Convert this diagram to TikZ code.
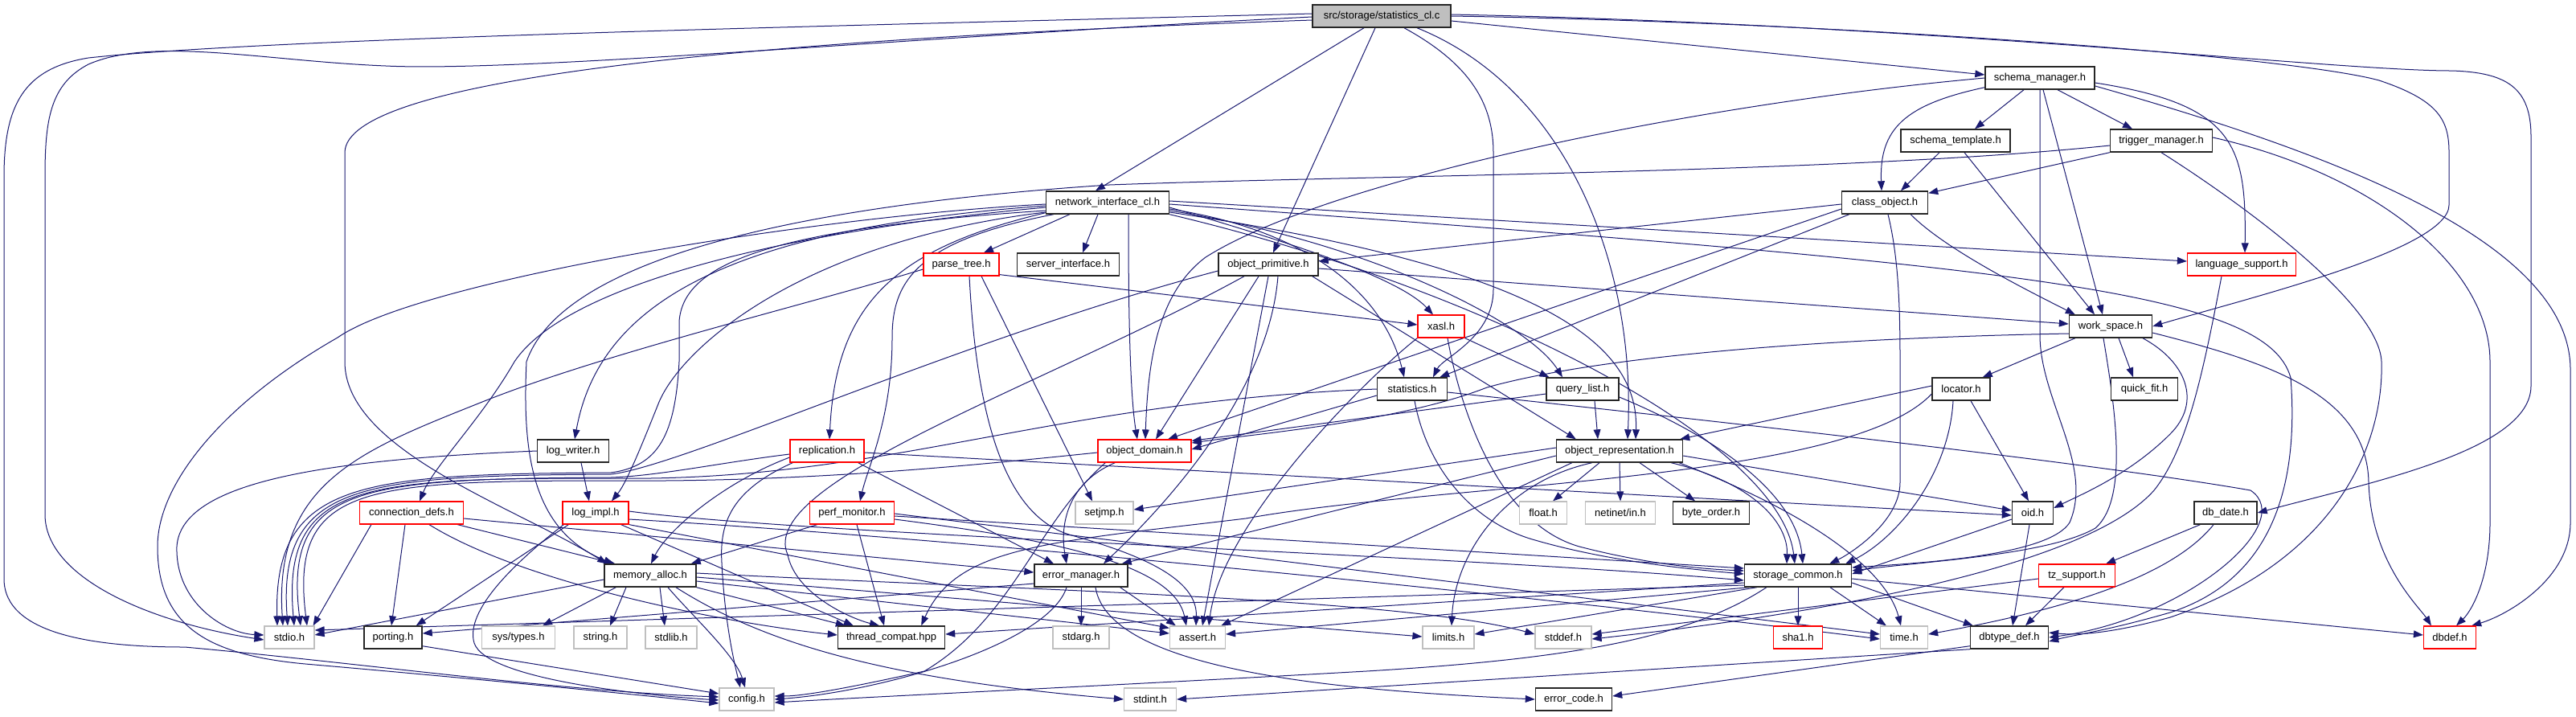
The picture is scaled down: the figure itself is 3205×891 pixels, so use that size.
\documentclass[tikz,border=0pt]{standalone}
\usepackage{fontspec}
\setmainfont{Liberation Sans}
\usetikzlibrary{arrows.meta,calc,backgrounds}
\definecolor{edgec}{HTML}{191970}
\definecolor{graybd}{HTML}{BFBFBF}
\definecolor{rootf}{HTML}{BFBFBF}
\tikzset{
  nbase/.style={rectangle, minimum height=14pt, inner sep=0pt, fill=white,
    font=\fontsize{6.5pt}{7.5pt}\selectfont},
  nb/.style={nbase, draw=black!85, line width=0.7pt},
  nr/.style={nbase, draw=red, line width=0.6pt},
  ng/.style={nbase, draw=graybd, line width=0.6pt},
  w/.style={minimum width=#1*0.5pt},
  e/.style={draw=edgec, line width=0.5pt, -{Triangle[length=6pt,width=4.4pt]}}
}
\begin{document}
\begin{tikzpicture}[x=0.5pt,y=-0.5pt]
\useasboundingbox (0,0) rectangle (3205,891);
% ---------- nodes ----------
\node[nb,w=172,fill=rootf] (R) at (1719,20) {src/storage/statistics\_cl.c};
\node[nb,w=136] (SM) at (2538,97) {schema\_manager.h};
\node[nb,w=136] (ST) at (2433,175) {schema\_template.h};
\node[nb,w=127] (TM) at (2689,175) {trigger\_manager.h};
\node[nb,w=153] (NI) at (1378,252) {network\_interface\_cl.h};
\node[nb,w=107] (CO) at (2345,252) {class\_object.h};
\node[nr,w=94] (PT) at (1196,329) {parse\_tree.h};
\node[nb,w=127] (SI) at (1329,329) {server\_interface.h};
\node[nb,w=124] (OP) at (1578,329) {object\_primitive.h};
\node[nr,w=135] (LS) at (2789,329) {language\_support.h};
\node[nr,w=58] (X) at (1793,406) {xasl.h};
\node[nb,w=103] (WS) at (2626,406) {work\_space.h};
\node[nb,w=87] (SS) at (1757,484) {statistics.h};
\node[nb,w=90] (QL) at (1969,484) {query\_list.h};
\node[nb,w=72] (LOC) at (2440,484) {locator.h};
\node[nb,w=83] (QF) at (2668,484) {quick\_fit.h};
\node[nb,w=89] (LW) at (713,561) {log\_writer.h};
\node[nr,w=92] (RP) at (1029,561) {replication.h};
\node[nr,w=116] (OD) at (1424,561) {object\_domain.h};
\node[nb,w=157] (OR) at (2015,561) {object\_representation.h};
\node[nr,w=129] (CD) at (512,638) {connection\_defs.h};
\node[nr,w=82] (LI) at (741,638) {log\_impl.h};
\node[nr,w=105] (PM) at (1060,638) {perf\_monitor.h};
\node[ng,w=72] (SJ) at (1374,638) {setjmp.h};
\node[ng,w=59] (FL) at (1920,638) {float.h};
\node[ng,w=87] (NT) at (2016,638) {netinet/in.h};
\node[nb,w=95] (BO) at (2129,638) {byte\_order.h};
\node[nb,w=51] (OID) at (2529,638) {oid.h};
\node[nb,w=78] (DD) at (2769,638) {db\_date.h};
\node[nb,w=114] (MA) at (809,716) {memory\_alloc.h};
\node[nb,w=116] (EM) at (1345,716) {error\_manager.h};
\node[nb,w=133] (SC) at (2237,716) {storage\_common.h};
\node[nr,w=95] (TZ) at (2584,716) {tz\_support.h};
\node[ng,w=62] (STDIO) at (360,793) {stdio.h};
\node[nb,w=72] (PORT) at (489,793) {porting.h};
\node[ng,w=91] (SYS) at (645,793) {sys/types.h};
\node[ng,w=66] (STR) at (747,793) {string.h};
\node[ng,w=64] (STDLIB) at (835,793) {stdlib.h};
\node[nb,w=133] (TC) at (1109,793) {thread\_compat.hpp};
\node[ng,w=70] (SA) at (1345,793) {stdarg.h};
\node[ng,w=69] (AS) at (1490,793) {assert.h};
\node[ng,w=64] (LIM) at (1802,793) {limits.h};
\node[ng,w=70] (SD) at (1945,793) {stddef.h};
\node[nr,w=61] (SHA) at (2237,793) {sha1.h};
\node[ng,w=59] (TIME) at (2369,793) {time.h};
\node[nb,w=97] (DT) at (2500,793) {dbtype\_def.h};
\node[nr,w=65] (DBDEF) at (3048,793) {dbdef.h};
\node[ng,w=68] (CFG) at (929,870) {config.h};
\node[ng,w=65] (SINT) at (1431,870) {stdint.h};
\node[nb,w=95] (EC) at (1958,870) {error\_code.h};
% ---------- edges ----------
\begin{pgfonlayer}{background}
% root
\draw[e] ($(R.west)+(0,-3)$) .. controls (1000,33) and (330,48) .. (110,72) .. controls (30,85) and (5,130) .. (5,220) -- (5,720) .. controls (5,790) and (120,805) .. (230,805) .. controls (450,825) and (700,860) .. ($(CFG.west)+(0,-3)$);
\draw[e] ($(R.west)+(0,1)$) .. controls (1150,45) and (650,90) .. (480,82) .. controls (330,76) and (190,45) .. (110,80) .. controls (62,105) and (56,150) .. (56,220) -- (56,640) .. controls (56,720) and (190,775) .. ($(STDIO.west)+(0,3)$);
\draw[e] ($(R.west)+(0,5)$) .. controls (900,50) and (429,100) .. (429,190) -- (429,450) .. controls (429,560) and (640,630) .. ($(MA.north west)+(4,0)$);
\draw[e] ($(R.south)+(-22,0)$) -- ($(NI.north)+(-15,0)$);
\draw[e] ($(R.south)+(-8,0)$) -- ($(OP.north)+(6,0)$);
\draw[e] ($(R.south)+(28,0)$) .. controls (1830,80) and (1858,130) .. (1858,190) -- (1858,360) .. controls (1858,420) and (1795,445) .. ($(SS.north)+(26,0)$);
\draw[e] ($(R.south)+(44,0)$) .. controls (1950,110) and (2035,330) .. ($(OR.north)+(10,0)$);
\draw[e] ($(R.east)+(0,6)$) -- ($(SM.west)+(0,-4)$);
\draw[e] (R.east) .. controls (2300,28) and (2850,70) .. (2960,100) .. controls (3035,125) and (3047,150) .. (3047,190) -- (3047,255) .. controls (3047,310) and (2800,370) .. (WS.east);
\draw[e] ($(R.east)+(0,-2)$) .. controls (2400,30) and (2900,88) .. (3050,88) .. controls (3120,90) and (3149,110) .. (3149,170) -- (3149,480) .. controls (3149,560) and (2950,600) .. (DD.east);
% schema_manager
\draw[e] ($(SM.south)+(-20,0)$) -- ($(ST.north)+(24,0)$);
\draw[e] ($(SM.south)+(22,0)$) -- ($(TM.north)+(-36,0)$);
\draw[e] ($(SM.south west)+(0,-3)$) .. controls (2370,130) and (2338,160) .. ($(CO.north)+(-4,0)$);
\draw[e] ($(SM.east)+(0,6)$) .. controls (2780,130) and (2795,180) .. ($(LS.north)+(4,0)$);
\draw[e] ($(SM.south)+(4,0)$) -- ($(WS.north)+(-10,0)$);
\draw[e] (SM.south) -- (2538,420) .. controls (2540,500) and (2605,580) .. (2575,650) .. controls (2550,690) and (2400,700) .. ($(SC.east)+(0,-10)$);
\draw[e] (SM.west) .. controls (2100,130) and (1650,225) .. (1500,320) .. controls (1440,365) and (1428,450) .. ($(OD.north)+(1,0)$);
\draw[e] ($(SM.east)+(0,10)$) .. controls (2900,190) and (3198,300) .. (3198,460) -- (3198,650) .. controls (3198,720) and (3120,765) .. ($(DBDEF.north east)+(-6,0)$);
% schema_template
\draw[e] ($(ST.south)+(-20,0)$) -- ($(CO.north)+(20,0)$);
\draw[e] ($(ST.south)+(11,0)$) -- ($(WS.north)+(-20,0)$);
% trigger_manager
\draw[e] (TM.south west) -- ($(CO.north east)+(0,3)$);
\draw[e] ($(TM.west)+(0,6)$) .. controls (2300,215) and (1700,218) .. (1380,230) .. controls (1000,255) and (700,320) .. (655,450) .. controls (650,560) and (660,660) .. ($(MA.north west)+(12,0)$);
\draw[e] (TM.south) .. controls (2800,260) and (2960,380) .. (2963,450) .. controls (2966,560) and (2900,700) .. (2700,768) .. controls (2620,790) and (2580,790) .. ($(DT.east)+(0,-6)$);
\draw[e] ($(TM.east)+(0,-4)$) .. controls (2950,215) and (3098,330) .. (3098,450) -- (3098,650) .. controls (3098,720) and (3075,760) .. ($(DBDEF.north)+(8,0)$);
% class_object
\draw[e] ($(CO.west)+(0,2)$) -- ($(OP.east)+(0,-4)$);
\draw[e] ($(CO.south west)+(10,0)$) -- ($(SS.north east)+(-10,0)$);
\draw[e] ($(CO.west)+(0,8)$) -- ($(OD.north)+(29,0)$);
\draw[e] ($(CO.south east)+(-22,0)$) .. controls (2420,310) and (2520,360) .. ($(WS.north west)+(8,0)$);
\draw[e] ($(CO.south)+(4,0)$) .. controls (2362,320) and (2364,380) .. (2364,450) -- (2364,600) .. controls (2364,650) and (2300,690) .. ($(SC.north east)+(-28,0)$);
% network_interface_cl
\draw[e] ($(NI.south west)+(30,0)$) -- ($(PT.north)+(28,0)$);
\draw[e] ($(NI.south)+(-12,0)$) -- ($(SI.north)+(18,0)$);
\draw[e] ($(NI.south)+(26,0)$) .. controls (1404,330) and (1404,480) .. ($(OD.north)+(-9,0)$);
\draw[e] ($(NI.east)+(0,-2)$) -- ($(LS.west)+(0,-4)$);
\draw[e] ($(NI.east)+(0,2)$) .. controls (2500,330) and (2820,360) .. (2850,470) .. controls (2860,600) and (2830,720) .. (2700,762) .. controls (2620,785) and (2580,790) .. ($(DT.east)+(0,5)$);
\draw[e] ($(NI.east)+(0,6)$) .. controls (1600,300) and (1740,345) .. ($(X.north)+(-10,0)$);
\draw[e] ($(NI.east)+(0,8)$) .. controls (1620,285) and (1720,360) .. ($(SS.north)+(-10,0)$);
\draw[e] ($(NI.east)+(0,10)$) .. controls (1700,300) and (1900,400) .. ($(QL.north)+(-25,0)$);
\draw[e] ($(NI.east)+(0,12)$) .. controls (1900,330) and (2040,420) .. ($(OR.north)+(20,0)$);
\draw[e] (NI.south east) .. controls (1850,360) and (2215,550) .. ($(SC.north)+(-4,0)$);
\draw[e] ($(NI.west)+(0,4)$) .. controls (900,285) and (745,380) .. ($(LW.north)+(2,0)$);
\draw[e] ($(NI.south west)+(0,-2)$) .. controls (1110,310) and (1040,380) .. ($(RP.north)+(3,0)$);
\draw[e] ($(NI.south west)+(10,0)$) .. controls (1140,300) and (1110,350) .. (1110,420) .. controls (1110,520) and (1080,580) .. ($(PM.north)+(10,0)$);
\draw[e] ($(NI.west)+(0,6)$) .. controls (950,290) and (700,360) .. (640,450) .. controls (600,520) and (540,580) .. ($(CD.north)+(10,0)$);
\draw[e] ($(NI.west)+(0,2)$) .. controls (1000,270) and (520,350) .. (420,420) .. controls (280,500) and (196,600) .. (196,680) .. controls (196,780) and (260,815) .. (380,826) .. controls (600,845) and (800,865) .. ($(CFG.west)+(0,5)$);
\draw[e] ($(NI.west)+(0,10)$) .. controls (950,285) and (850,330) .. (845,400) -- (845,450) .. controls (840,540) and (820,580) .. (760,588) .. controls (450,590) and (340,598) .. ($(STDIO.north)+(-15,0)$);
\draw[e] ($(NI.west)+(0,12)$) .. controls (1000,300) and (850,430) .. (820,500) .. controls (800,550) and (780,600) .. ($(LI.north)+(20,0)$);
% parse_tree
\draw[e] ($(PT.south east)+(0,-2)$) -- ($(X.west)+(0,-2)$);
\draw[e] ($(PT.west)+(0,6)$) .. controls (1000,380) and (750,440) .. (600,500) .. controls (450,560) and (340,600) .. ($(STDIO.north)+(-8,0)$);
\draw[e] ($(PT.south)+(25,0)$) -- ($(SJ.north)+(-15,0)$);
\draw[e] ($(PT.south)+(10,0)$) .. controls (1215,520) and (1250,640) .. (1330,665) .. controls (1420,690) and (1490,720) .. ($(AS.north)+(-2,0)$);
% object_primitive
\draw[e] ($(OP.east)+(0,5)$) -- ($(WS.west)+(0,-3)$);
\draw[e] ($(OP.south)+(-12,0)$) -- ($(OD.north)+(14,0)$);
\draw[e] ($(OP.south east)+(-8,0)$) -- ($(OR.north west)+(25,0)$);
\draw[e] ($(OP.south)+(12,0)$) .. controls (1580,470) and (1480,600) .. ($(EM.north)+(28,0)$);
\draw[e] ($(OP.south)+(-30,0)$) .. controls (1300,480) and (940,600) .. (980,690) .. controls (990,740) and (1060,770) .. ($(TC.north)+(-15,0)$);
\draw[e] ($(OP.west)+(0,8)$) .. controls (1200,420) and (850,580) .. (760,590) .. controls (450,592) and (345,600) .. ($(STDIO.north)+(-2,0)$);
\draw[e] (OP.south) -- ($(AS.north)+(6,0)$);
% xasl
\draw[e] (X.south east) -- ($(QL.north west)+(4,0)$);
\draw[e] (X.south west) .. controls (1700,470) and (1520,650) .. ($(AS.north)+(14,0)$);
\draw[e] ($(X.south)+(8,0)$) .. controls (1815,500) and (1860,650) .. (1965,680) .. controls (2050,702) and (2120,708) .. ($(SC.west)+(0,-6)$);
% work_space
\draw[e] ($(WS.south west)+(8,0)$) -- ($(LOC.north east)+(-10,0)$);
\draw[e] ($(WS.south)+(10,0)$) -- ($(QF.north)+(-14,0)$);
\draw[e] ($(WS.south)+(40,0)$) .. controls (2720,450) and (2740,500) .. (2700,540) .. controls (2650,590) and (2590,615) .. ($(OID.east)+(0,-6)$);
\draw[e] ($(WS.south)+(-9,0)$) .. controls (2630,500) and (2650,620) .. (2607,657) .. controls (2550,690) and (2400,698) .. ($(SC.east)+(0,-6)$);
\draw[e] ($(WS.east)+(0,8)$) .. controls (2820,450) and (2945,490) .. (2947,600) .. controls (2950,700) and (3010,755) .. ($(DBDEF.north west)+(10,0)$);
\draw[e] ($(WS.west)+(0,9)$) .. controls (2300,420) and (2000,440) .. (1850,482) .. controls (1740,525) and (1560,540) .. ($(OD.east)+(0,-10)$);
% statistics
\draw[e] (SS.west) .. controls (1300,500) and (1100,600) .. (760,595) .. controls (450,595) and (350,600) .. ($(STDIO.north)+(6,0)$);
\draw[e] ($(SS.west)+(0,8)$) -- ($(OD.east)+(0,-2)$);
\draw[e] ($(SS.south)+(3,0)$) .. controls (1775,580) and (1830,650) .. (1910,672) .. controls (2000,698) and (2100,708) .. ($(SC.west)+(0,-2)$);
\draw[e] ($(SS.east)+(0,4)$) .. controls (2100,520) and (2600,575) .. (2800,610) .. controls (2860,650) and (2720,770) .. (DT.east);
% query_list
\draw[e] ($(QL.south)+(15,0)$) -- ($(OR.north)+(-27,0)$);
\draw[e] ($(QL.west)+(0,6)$) -- ($(OD.north east)+(0,2)$);
\draw[e] ($(QL.east)+(0,10)$) .. controls (2150,550) and (2235,620) .. ($(SC.north)+(6,0)$);
% locator
\draw[e] ($(LOC.west)+(0,-4)$) -- ($(OR.north east)+(-4,0)$);
\draw[e] ($(LOC.south)+(12,0)$) -- ($(OID.north)+(-5,0)$);
\draw[e] ($(LOC.south)+(-10,0)$) .. controls (2425,590) and (2360,670) .. ($(SC.north east)+(-8,0)$);
\draw[e] ($(LOC.west)+(0,6)$) .. controls (2300,600) and (1800,600) .. (1550,645) .. controls (1300,675) and (1190,680) .. ($(TC.north east)+(-30,0)$);
% language_support
\draw[e] ($(LS.south)+(-25,0)$) .. controls (2740,470) and (2720,560) .. (2680,610) .. controls (2600,700) and (2300,760) .. ($(SD.east)+(0,2)$);
% log_writer
\draw[e] (LW.west) .. controls (400,572) and (225,600) .. (220,680) .. controls (218,750) and (280,788) .. ($(STDIO.west)+(0,-3)$);
\draw[e] ($(LW.south)+(10,0)$) -- ($(LI.north)+(-8,0)$);
% replication
\draw[e] ($(RP.west)+(0,8)$) .. controls (900,600) and (830,660) .. ($(MA.north)+(1,0)$);
\draw[e] ($(RP.south west)+(4,0)$) .. controls (910,610) and (895,650) .. (898,700) .. controls (902,780) and (915,830) .. ($(CFG.north)+(-8,0)$);
\draw[e] ($(RP.south east)+(-8,0)$) -- ($(EM.north)+(-34,0)$);
\draw[e] ($(RP.east)+(0,2)$) -- ($(OID.west)+(0,3)$);
\draw[e] ($(RP.west)+(0,4)$) .. controls (900,575) and (820,592) .. (760,594) .. controls (450,596) and (352,602) .. ($(STDIO.north)+(14,0)$);
% object_domain
\draw[e] ($(OD.south west)+(22,0)$) .. controls (1330,600) and (1318,650) .. ($(EM.north)+(-18,0)$);
\draw[e] ($(OD.south west)+(10,0)$) .. controls (1290,650) and (1260,770) .. (1150,835) .. controls (1060,855) and (1000,866) .. ($(CFG.east)+(0,-4)$);
\draw[e] ($(OD.west)+(0,2)$) .. controls (1200,580) and (1000,600) .. (760,598) .. controls (450,598) and (360,605) .. ($(STDIO.north)+(22,0)$);
% object_representation
\draw[e] ($(OR.west)+(0,-4)$) -- ($(SJ.east)+(0,-4)$);
\draw[e] ($(OR.south)+(-25,0)$) -- ($(FL.north)+(12,0)$);
\draw[e] (OR.south) -- (NT.north);
\draw[e] ($(OR.south)+(25,0)$) -- ($(BO.north)+(-20,0)$);
\draw[e] ($(OR.east)+(0,6)$) -- ($(OID.west)+(0,-3)$);
\draw[e] ($(OR.south east)+(-15,0)$) .. controls (2180,600) and (2225,650) .. ($(SC.north)+(-14,0)$);
\draw[e] ($(OR.south east)+(-5,0)$) .. controls (2280,650) and (2350,720) .. ($(TIME.north)+(-4,0)$);
\draw[e] ($(OR.south west)+(45,0)$) .. controls (1870,600) and (1810,690) .. ($(LIM.north)+(4,0)$);
\draw[e] ($(OR.south west)+(20,0)$) -- ($(AS.north east)+(-6,0)$);
\draw[e] ($(OR.west)+(0,6)$) -- ($(EM.north east)+(-8,0)$);
% connection_defs
\draw[e] ($(CD.south west)+(15,0)$) -- ($(STDIO.north east)+(-2,0)$);
\draw[e] ($(CD.south)+(-8,0)$) -- ($(PORT.north)+(-2,0)$);
\draw[e] ($(CD.south east)+(-8,0)$) -- ($(MA.north west)+(14,0)$);
\draw[e] ($(CD.south)+(22,0)$) .. controls (650,725) and (900,775) .. ($(TC.west)+(0,-3)$);
\draw[e] ($(CD.east)+(0,7)$) -- ($(EM.west)+(0,-4)$);
% log_impl
\draw[e] ($(LI.south west)+(8,0)$) -- ($(PORT.north east)+(-8,0)$);
\draw[e] ($(LI.south west)+(2,0)$) .. controls (640,700) and (578,760) .. (590,800) .. controls (605,845) and (800,865) .. ($(CFG.west)+(0,1)$);
\draw[e] ($(LI.east)+(0,-2)$) .. controls (1000,665) and (1800,690) .. ($(SC.west)+(0,6)$);
\draw[e] ($(LI.south east)+(-10,0)$) -- ($(TC.north west)+(20,0)$);
\draw[e] (LI.south east) -- ($(AS.north west)+(0,3)$);
\draw[e] ($(LI.east)+(0,8)$) .. controls (1200,670) and (1900,740) .. ($(TIME.west)+(0,2)$);
% perf_monitor
\draw[e] ($(PM.south west)+(10,0)$) -- ($(MA.north east)+(-7,0)$);
\draw[e] ($(PM.south)+(6,0)$) -- ($(TC.north)+(-9,0)$);
\draw[e] ($(PM.east)+(0,4)$) -- ($(SC.west)+(0,-9)$);
\draw[e] ($(PM.east)+(0,8)$) .. controls (1300,670) and (1460,700) .. ($(AS.north)+(-14,0)$);
\draw[e] ($(PM.east)+(0,1)$) -- ($(TIME.west)+(0,-4)$);
% oid
\draw[e] ($(OID.west)+(0,8)$) -- ($(SC.east)+(0,-2)$);
\draw[e] ($(OID.south)+(-4,0)$) -- ($(DT.north)+(4,0)$);
% db_date
\draw[e] ($(DD.south west)+(8,0)$) -- ($(TZ.north east)+(-12,0)$);
\draw[e] ($(DD.south)+(-15,0)$) .. controls (2700,720) and (2560,760) .. ($(TIME.east)+(0,-4)$);
% memory_alloc
\draw[e] ($(MA.west)+(0,5)$) -- ($(STDIO.east)+(0,-3)$);
\draw[e] ($(MA.south west)+(15,0)$) -- ($(SYS.north)+(30,0)$);
\draw[e] ($(MA.south)+(-30,0)$) -- ($(STR.north)+(12,0)$);
\draw[e] ($(MA.south)+(12,0)$) -- ($(STDLIB.north)+(-8,0)$);
\draw[e] ($(MA.south)+(22,0)$) .. controls (860,765) and (915,815) .. ($(CFG.north)+(-2,0)$);
\draw[e] ($(MA.south)+(32,0)$) .. controls (950,800) and (1100,845) .. (SINT.west);
\draw[e] (MA.south east) -- ($(TC.north west)+(10,0)$);
\draw[e] ($(MA.east)+(0,7)$) -- ($(AS.west)+(0,-5)$);
\draw[e] ($(MA.east)+(0,2)$) -- ($(LIM.west)+(0,-1)$);
\draw[e] ($(MA.east)+(0,-3)$) .. controls (1300,735) and (1750,745) .. ($(SD.west)+(0,-4)$);
% error_manager
\draw[e] ($(EM.south)+(-18,0)$) .. controls (1305,800) and (1100,860) .. (CFG.east);
\draw[e] (EM.south) -- (SA.north);
\draw[e] ($(EM.south)+(18,0)$) .. controls (1380,840) and (1700,860) .. (EC.west);
\draw[e] ($(EM.south east)+(-10,0)$) -- ($(AS.north west)+(8,0)$);
\draw[e] ($(EM.west)+(0,10)$) -- ($(PORT.east)+(0,-5)$);
% storage_common
\draw[e] ($(SC.west)+(0,12)$) -- ($(STDIO.east)+(0,-9)$);
\draw[e] ($(SC.west)+(0,9)$) -- ($(TC.east)+(0,-4)$);
\draw[e] ($(SC.south west)+(6,0)$) -- ($(AS.east)+(0,-4)$);
\draw[e] ($(SC.south west)+(16,0)$) -- ($(LIM.east)+(0,-4)$);
\draw[e] (SC.south) -- (SHA.north);
\draw[e] ($(SC.south)+(40,0)$) -- ($(TIME.north west)+(8,0)$);
\draw[e] ($(SC.east)+(0,9)$) -- ($(DT.north west)+(4,0)$);
\draw[e] ($(SC.east)+(0,4)$) -- ($(DBDEF.west)+(0,-3)$);
\draw[e] ($(SC.south west)+(28,0)$) .. controls (2100,795) and (1950,820) .. (1700,835) .. controls (1400,852) and (1100,866) .. ($(CFG.east)+(0,4)$);
% tz_support
\draw[e] ($(TZ.south)+(-16,0)$) -- ($(DT.north)+(20,0)$);
\draw[e] ($(TZ.west)+(0,4)$) -- ($(SD.east)+(0,-4)$);
% dbtype_def
\draw[e] ($(DT.south west)+(0,-4)$) -- ($(EC.east)+(0,-4)$);
\draw[e] (DT.south west) -- (SINT.east);
% porting
\draw[e] ($(PORT.south east)+(0,-4)$) -- ($(CFG.west)+(0,-7)$);
\end{pgfonlayer}
\end{tikzpicture}
\end{document}
